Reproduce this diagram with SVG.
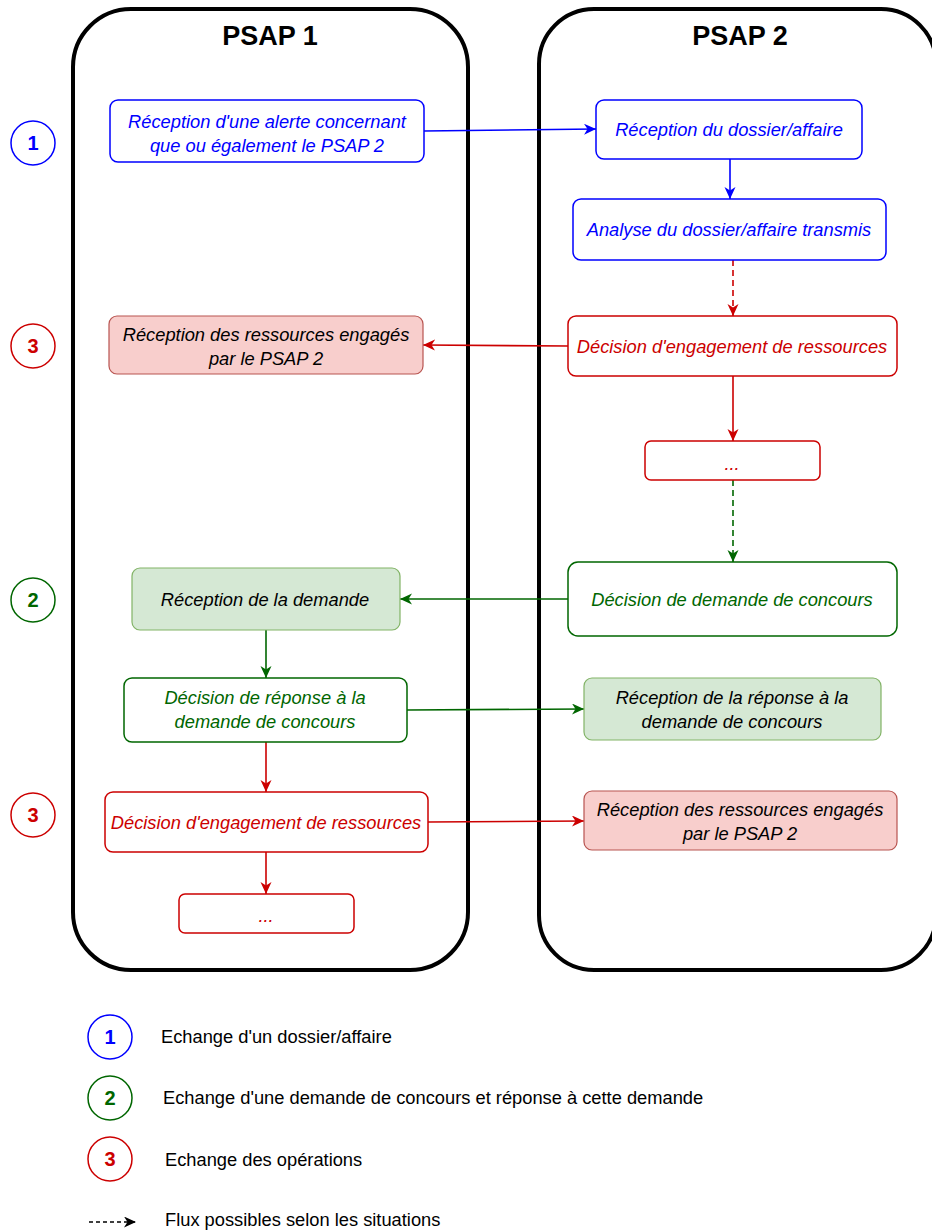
<svg xmlns="http://www.w3.org/2000/svg" width="932" height="1232" viewBox="0 0 932 1232">
<style>
text{font-family:"Liberation Sans",Arial,sans-serif;font-size:18.3px;text-anchor:middle}
.it{font-style:italic}
.lane{fill:#fff;stroke:#000;stroke-width:4}
.title{font-weight:bold;font-size:27px;fill:#000}
.bB{fill:#fff;stroke:#0000FF;stroke-width:1.5}
.bR{fill:#fff;stroke:#CC0000;stroke-width:1.5}
.bG{fill:#fff;stroke:#006600;stroke-width:1.5}
.fR{fill:#f8cecc;stroke:#b85450;stroke-width:1.2}
.fG{fill:#d5e8d4;stroke:#82b366;stroke-width:1.2}
.tB{fill:#0000FF}.tR{fill:#CC0000}.tG{fill:#006600}.tK{fill:#000}
.num{font-weight:bold;font-size:20px}
.cB{fill:#fff;stroke:#0000FF;stroke-width:1.5}
.cR{fill:#fff;stroke:#CC0000;stroke-width:1.5}
.cG{fill:#fff;stroke:#006600;stroke-width:1.5}
.lg{text-anchor:start;fill:#000}
.eB{fill:none;stroke:#0000FF;stroke-width:1.6;marker-end:url(#aB)}
.eR{fill:none;stroke:#CC0000;stroke-width:1.6;marker-end:url(#aR)}
.eG{fill:none;stroke:#006600;stroke-width:1.6;marker-end:url(#aG)}
.eK{fill:none;stroke:#000;stroke-width:1.6;marker-end:url(#aK)}
.d{stroke-dasharray:6 4}
</style>
<defs>
<marker id="aB" markerUnits="userSpaceOnUse" markerWidth="14" markerHeight="14" refX="12" refY="5.5" orient="auto"><path d="M0,0 L12,5.5 L0,11 L3.5,5.5 z" fill="#0000FF"/></marker>
<marker id="aR" markerUnits="userSpaceOnUse" markerWidth="14" markerHeight="14" refX="12" refY="5.5" orient="auto"><path d="M0,0 L12,5.5 L0,11 L3.5,5.5 z" fill="#CC0000"/></marker>
<marker id="aG" markerUnits="userSpaceOnUse" markerWidth="14" markerHeight="14" refX="12" refY="5.5" orient="auto"><path d="M0,0 L12,5.5 L0,11 L3.5,5.5 z" fill="#006600"/></marker>
<marker id="aK" markerUnits="userSpaceOnUse" markerWidth="14" markerHeight="14" refX="12" refY="5.5" orient="auto"><path d="M0,0 L12,5.5 L0,11 L3.5,5.5 z" fill="#000"/></marker>
</defs>
<rect width="932" height="1232" fill="#fff"/>

<g id="psap1">
<rect class="lane" x="73" y="9" width="395" height="961" rx="58" ry="58"/>
<text class="title" x="270" y="45">PSAP 1</text>
</g>
<g id="psap2">
<rect class="lane" x="539" y="9" width="397" height="961" rx="55" ry="55"/>
<text class="title" x="740" y="45">PSAP 2</text>
</g>

<g id="connectors">
<path class="eB" d="M424,131 L596,129"/>
<path class="eB" d="M730,159 L730,199"/>
<path class="eR d" d="M733,260 L733,316"/>
<path class="eR" d="M568,346 L423,345"/>
<path class="eR" d="M733,376 L733,441"/>
<path class="eG d" d="M733,480 L733,562"/>
<path class="eG" d="M568,599 L400,599"/>
<path class="eG" d="M266,630 L266,678"/>
<path class="eG" d="M407,710 L584,709"/>
<path class="eR" d="M266,742 L266,792"/>
<path class="eR" d="M428,822 L584,821"/>
<path class="eR" d="M266,852 L266,894"/>
</g>

<g id="n1">
<rect class="bB" x="110" y="100" width="314" height="62" rx="8"/>
<text class="it tB" x="267" y="127.5">Réception d'une alerte concernant</text>
<text class="it tB" x="267" y="151.5">que ou également le PSAP 2</text>
</g>
<g id="n2">
<rect class="bB" x="596" y="100" width="266" height="59" rx="8"/>
<text class="it tB" x="729" y="136">Réception du dossier/affaire</text>
</g>
<g id="n3">
<rect class="bB" x="573" y="199" width="313" height="61" rx="8"/>
<text class="it tB" x="729" y="236">Analyse du dossier/affaire transmis</text>
</g>
<g id="n4">
<rect class="bR" x="568" y="316" width="329" height="60" rx="8"/>
<text class="it tR" x="732" y="352.5">Décision d'engagement de ressources</text>
</g>
<g id="n5">
<rect class="fR" x="109" y="316" width="314" height="58" rx="8"/>
<text class="it tK" x="266" y="340.5">Réception des ressources engagés</text>
<text class="it tK" x="266" y="364.5">par le PSAP 2</text>
</g>
<g id="n6">
<rect class="bR" x="645" y="441" width="175" height="39" rx="6"/>
<text class="it tR" x="732" y="470">...</text>
</g>
<g id="n7">
<rect class="bG" x="568" y="562" width="329" height="74" rx="10"/>
<text class="it tG" x="732" y="605.5">Décision de demande de concours</text>
</g>
<g id="n8">
<rect class="fG" x="132" y="568" width="268" height="62" rx="8"/>
<text class="it tK" x="265" y="605.5">Réception de la demande</text>
</g>
<g id="n9">
<rect class="bG" x="124" y="678" width="283" height="64" rx="8"/>
<text class="it tG" x="265" y="704">Décision de réponse à la</text>
<text class="it tG" x="265" y="728">demande de concours</text>
</g>
<g id="n10">
<rect class="fG" x="584" y="678" width="297" height="62" rx="8"/>
<text class="it tK" x="732" y="703.5">Réception de la réponse à la</text>
<text class="it tK" x="732" y="727.5">demande de concours</text>
</g>
<g id="n11">
<rect class="bR" x="105" y="792" width="323" height="60" rx="8"/>
<text class="it tR" x="266" y="828.5">Décision d'engagement de ressources</text>
</g>
<g id="n12">
<rect class="fR" x="584" y="791" width="313" height="59" rx="8"/>
<text class="it tK" x="740" y="815.5">Réception des ressources engagés</text>
<text class="it tK" x="740" y="839.5">par le PSAP 2</text>
</g>
<g id="n13">
<rect class="bR" x="179" y="894" width="175" height="39" rx="6"/>
<text class="it tR" x="266" y="922">...</text>
</g>

<g id="step1">
<circle class="cB" cx="33" cy="143" r="22"/>
<text class="num tB" x="33" y="150">1</text>
</g>
<g id="step3a">
<circle class="cR" cx="33" cy="346" r="22"/>
<text class="num tR" x="33" y="353">3</text>
</g>
<g id="step2">
<circle class="cG" cx="33" cy="600" r="22"/>
<text class="num tG" x="33" y="607">2</text>
</g>
<g id="step3b">
<circle class="cR" cx="33" cy="815" r="22"/>
<text class="num tR" x="33" y="822">3</text>
</g>

<g id="legend">
<circle class="cB" cx="110" cy="1037" r="22"/>
<text class="num tB" x="110" y="1044">1</text>
<text class="lg" x="161" y="1043">Echange d'un dossier/affaire</text>
<circle class="cG" cx="110" cy="1098" r="22"/>
<text class="num tG" x="110" y="1105">2</text>
<text class="lg" x="163" y="1104">Echange d'une demande de concours et réponse à cette demande</text>
<circle class="cR" cx="110" cy="1159" r="22"/>
<text class="num tR" x="110" y="1166">3</text>
<text class="lg" x="165" y="1166">Echange des opérations</text>
<path class="eK" d="M89,1222 L136,1222" stroke-dasharray="4 3"/>
<text class="lg" x="165" y="1226">Flux possibles selon les situations</text>
</g>
</svg>
